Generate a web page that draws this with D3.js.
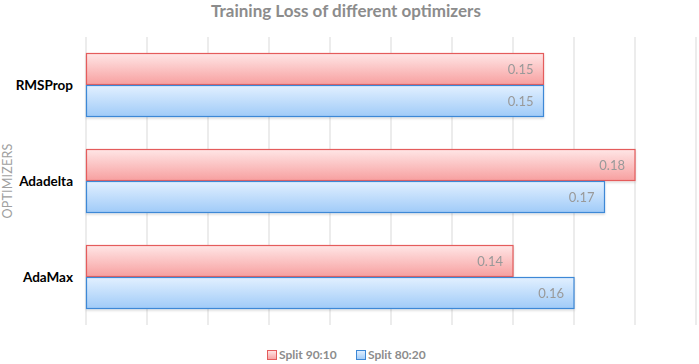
<!DOCTYPE html>
<html lang="en">
<head>
  <meta charset="UTF-8">
  <title>Training Loss of different optimizers</title>
  <script src="https://d3js.org/d3.v7.min.js"></script>
  <style>
    body { margin: 0; background: #fff; font-family: Lato, "Open Sans", Arial, sans-serif; }
    svg { display: block; }
  </style>
</head>
<body>
  <div id="chart"></div>
  <script>
    const optimizers = ["RMSProp", "Adadelta", "AdaMax"];
    const series = ["Split 90:10", "Split 80:20"];
    const split9010 = [0.15, 0.18, 0.14];
    const split8020 = [0.15, 0.17, 0.16];
    const xTicks = [0, 0.02, 0.04, 0.06, 0.08, 0.1, 0.12, 0.14, 0.16, 0.18, 0.2];

    const W = 699, H = 364;
    const margin = {top: 37, right: 3, bottom: 39, left: 86};
    const width = W - margin.left - margin.right,
          height = H - margin.top - margin.bottom;

    const svg = d3.select("#chart").append("svg")
      .attr("width", W).attr("height", H);

    const defs = svg.append("defs");
    const grads = [
      {id: "gRed", top: "#ffe6e6", bottom: "#f7a0a0", stroke: "#e45c5c"},
      {id: "gBlue", top: "#e2f0ff", bottom: "#a0cbf8", stroke: "#3d88d6"}
    ];
    grads.forEach(g => {
      const lg = defs.append("linearGradient").attr("id", g.id)
        .attr("x1", 0).attr("y1", 0).attr("x2", 0).attr("y2", 1);
      lg.append("stop").attr("offset", "0%").attr("stop-color", g.top);
      lg.append("stop").attr("offset", "100%").attr("stop-color", g.bottom);
    });
    // soft shadow under bars
    const f = defs.append("filter").attr("id", "shadow")
      .attr("x", "-5%").attr("y", "-20%").attr("width", "110%").attr("height", "150%");
    f.append("feDropShadow").attr("dx", 0).attr("dy", 1.5).attr("stdDeviation", 1)
      .attr("flood-color", "#000").attr("flood-opacity", 0.15);

    const g = svg.append("g").attr("transform", `translate(${margin.left},${margin.top})`);

    const x = d3.scaleLinear().domain([0, 0.2]).range([0, 610]);
    const y = d3.scaleBand().domain(optimizers).range([0, height]).paddingInner(1/3).paddingOuter(1/6);
    const ySub = d3.scaleBand().domain(series).range([0, y.bandwidth()]);

    // gridlines
    g.selectAll(".grid").data(xTicks).enter().append("line")
      .attr("x1", d => x(d)).attr("x2", d => x(d))
      .attr("y1", 0).attr("y2", height)
      .attr("stroke", "#d9d9d9").attr("stroke-width", 1);

    const rows = optimizers.map((o, i) => ({name: o, vals: [split9010[i], split8020[i]]}));

    const grp = g.selectAll(".grp").data(rows).enter().append("g")
      .attr("transform", d => `translate(0,${y(d.name)})`)
      .attr("filter", "url(#shadow)");

    grp.selectAll("rect").data(d => d.vals.map((v, j) => ({s: series[j], v, j})))
      .enter().append("rect")
      .attr("x", 0.5)
      .attr("y", d => ySub(d.s) + 0.5)
      .attr("width", d => x(d.v) - 0.5)
      .attr("height", ySub.bandwidth() - 1)
      .attr("fill", d => `url(#${grads[d.j].id})`)
      .attr("stroke", d => grads[d.j].stroke)
      .attr("stroke-width", 1.2);

    grp.selectAll(".val").data(d => d.vals.map((v, j) => ({s: series[j], v, j})))
      .enter().append("text")
      .attr("x", d => x(d.v) - 10)
      .attr("y", d => ySub(d.s) + ySub.bandwidth() / 2)
      .attr("dy", "0.35em")
      .attr("text-anchor", "end")
      .attr("fill", "#999")
      .style("font-size", "13px")
      .text(d => d3.format(".2f")(d.v));

    // category labels
    g.selectAll(".cat").data(optimizers).enter().append("text")
      .attr("x", -13)
      .attr("y", d => y(d) + y.bandwidth() / 2)
      .attr("dy", "0.35em")
      .attr("text-anchor", "end")
      .attr("fill", "#000")
      .style("font-size", "13.5px")
      .style("font-weight", "bold")
      .text(d => d);

    // axis title
    svg.append("text")
      .attr("transform", `translate(12,${margin.top + height / 2}) rotate(-90)`)
      .attr("text-anchor", "middle")
      .attr("fill", "#a0a0a0")
      .style("font-size", "12.5px")
      .style("letter-spacing", "0.2px")
      .text("OPTIMIZERS");

    // title
    svg.append("text")
      .attr("x", 346).attr("y", 17)
      .attr("text-anchor", "middle")
      .attr("fill", "#8c8c8c")
      .style("font-size", "17px")
      .style("font-weight", "bold")
      .text("Training Loss of different optimizers");

    // legend
    const legX = [267, 356];
    const leg = svg.selectAll(".leg").data(series).enter().append("g")
      .attr("transform", (d, i) => `translate(${legX[i]},350)`);
    leg.append("rect")
      .attr("x", 0.5).attr("y", 0.5).attr("width", 9).attr("height", 9)
      .attr("fill", (d, i) => `url(#${grads[i].id})`)
      .attr("stroke", (d, i) => grads[i].stroke);
    leg.append("text")
      .attr("x", 12).attr("y", 5).attr("dy", "0.35em")
      .attr("fill", "#8c8c8c")
      .style("font-size", "12px")
      .style("font-weight", "bold")
      .text(d => d);
  </script>
</body>
</html>
